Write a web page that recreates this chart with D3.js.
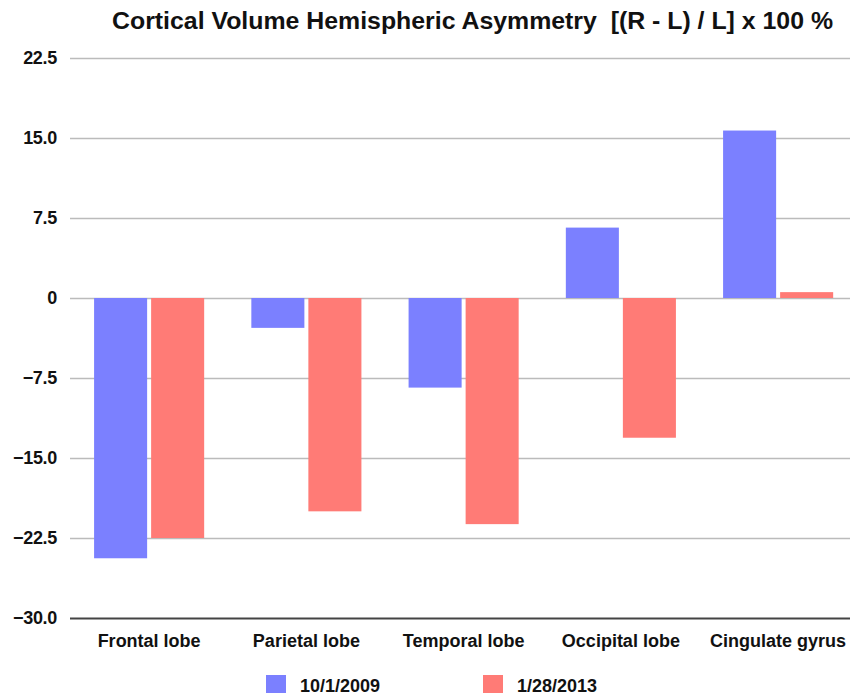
<!DOCTYPE html>
<html><head><meta charset="utf-8">
<script src="https://cdn.jsdelivr.net/npm/d3@7"></script>
<style>body{margin:0;background:#fff;} text{font-family:"Liberation Sans",Arial,sans-serif;}</style>
</head><body><svg id="c" width="850" height="695"></svg>
<script>
const categories = ["Frontal lobe","Parietal lobe","Temporal lobe","Occipital lobe","Cingulate gyrus"];
const series = ["10/1/2009","1/28/2013"];
const values2009 = [-24.4,-2.8,-8.4,6.6,15.7];
const values2013 = [-22.5,-20.0,-21.2,-13.1,0.55];
const yTicks = [22.5,15,7.5,0,-7.5,-15,-22.5,-30];
const colors = ["#7b80ff","#ff7b76"];

const svg = d3.select("#c");
const y = d3.scaleLinear().domain([-30,22.5]).range([618,58]);
const x0 = d3.scaleBand().domain(categories).range([70.5,856.75]).paddingInner(0.3).paddingOuter(0.15);
const x1 = d3.scaleBand().domain(series).range([0,x0.bandwidth()]).paddingInner(0.07);

svg.append("text").attr("x",472.5).attr("y",29).attr("text-anchor","middle")
  .attr("font-size",23).attr("font-weight","bold").attr("fill","#111")
  .attr("textLength",721).attr("lengthAdjust","spacingAndGlyphs")
  .style("white-space","pre")
  .text("Cortical Volume Hemispheric Asymmetry  [(R - L) / L] x 100 %");

const ya = svg.append("g").attr("transform","translate(70,0)")
  .call(d3.axisLeft(y).tickValues(yTicks).tickSize(-780).tickPadding(13)
  .tickFormat(d=> d===0?"0":d3.format(".1f")(d)));
ya.select(".domain").remove();
ya.selectAll(".tick line").attr("stroke",d=>d===-30?"#444":"#bbb").attr("stroke-width",d=>d===-30?2:1.5);
ya.selectAll(".tick text").attr("font-size",18).attr("font-weight","bold").attr("fill","#111")
  .attr("font-family","Liberation Sans, Arial, sans-serif").attr("letter-spacing",-0.3);

const data = categories.map((c,i)=>({c, v:[values2009[i],values2013[i]]}));
const g = svg.append("g");
data.forEach(d=>{
  d.v.forEach((v,j)=>{
    g.append("rect")
      .attr("x",x0(d.c)+x1(series[j]))
      .attr("width",x1.bandwidth())
      .attr("y",y(Math.max(0,v)))
      .attr("height",Math.abs(y(v)-y(0)))
      .attr("fill",colors[j]);
  });
});

const xa = svg.append("g").attr("transform","translate(0,618)")
  .call(d3.axisBottom(x0).tickSize(0).tickPadding(16));
xa.select(".domain").remove();
xa.selectAll(".tick text").attr("font-size",18).attr("font-weight","bold").attr("fill","#111")
  .attr("font-family","Liberation Sans, Arial, sans-serif");

const legX = [266,483];
series.forEach((s,j)=>{
  svg.append("rect").attr("x",legX[j]).attr("y",675).attr("width",20).attr("height",18).attr("fill",colors[j]);
  svg.append("text").attr("x",legX[j]+34).attr("y",692).attr("font-size",18).attr("font-weight","bold")
    .attr("fill","#111").text(s);
});
</script></body></html>
